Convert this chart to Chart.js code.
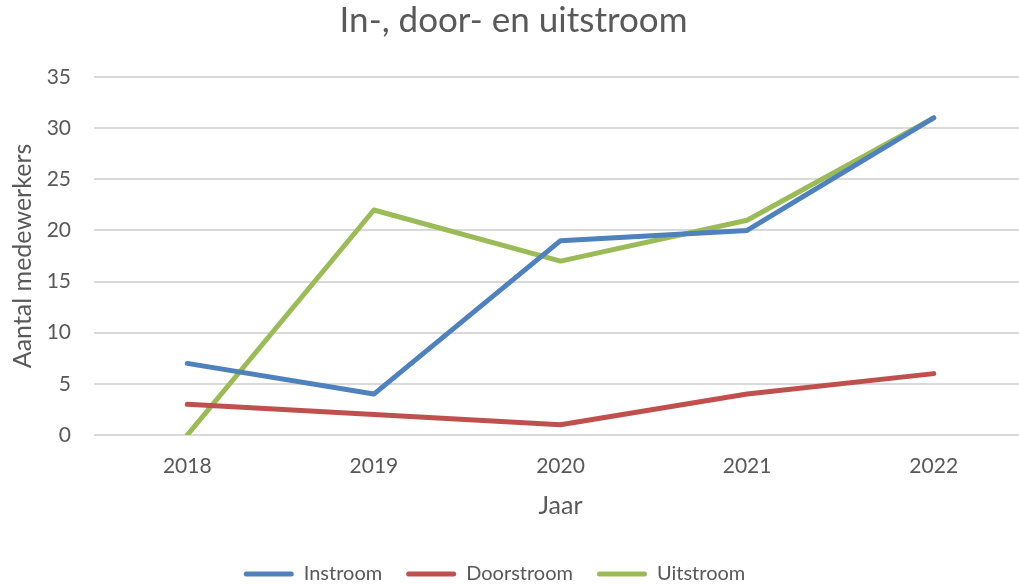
<!DOCTYPE html>
<html>
<head>
<meta charset="utf-8">
<script src="https://cdn.jsdelivr.net/npm/chart.js@4/dist/chart.umd.min.js"></script>
<style>
  html, body { margin: 0; padding: 0; background: #fff; overflow: hidden; }
  #wrap { width: 1030px; height: 600px; }
</style>
</head>
<body>
<div id="wrap"><canvas id="chart" width="1030" height="600"></canvas></div>
<script>
const years = ["2018", "2019", "2020", "2021", "2022"];
const instroom = [7, 4, 19, 20, 31];
const doorstroom = [3, 2, 1, 4, 6];
const uitstroom = [0, 22, 17, 21, 31];

const textColor = "#595959";
const fontFamily = "Lato, 'Open Sans', sans-serif";

function series(label, data, color) {
  return {
    label, data,
    borderColor: color,
    backgroundColor: color,
    borderWidth: 5,
    borderCapStyle: "round",
    borderJoinStyle: "round",
    pointRadius: 0,
    tension: 0
  };
}

// legend sits a little left of the canvas centre in the original
const legendShift = {
  id: "legendShift",
  afterLayout(chart) {
    chart.legend.left -= 19;
    chart.legend.right -= 19;
  }
};

new Chart(document.getElementById("chart"), {
  type: "line",
  data: {
    labels: years,
    datasets: [
      series("Instroom", instroom, "#4f81bd"),
      series("Doorstroom", doorstroom, "#c0504d"),
      series("Uitstroom", uitstroom, "#9bbb59")
    ]
  },
  plugins: [legendShift],
  options: {
    responsive: false,
    animation: false,
    layout: { padding: { top: 0, left: 0, right: 3, bottom: 6 } },
    plugins: {
      title: {
        display: true,
        text: "In-, door- en uitstroom",
        color: textColor,
        font: { family: fontFamily, size: 35, weight: "normal" },
        padding: { top: 0, bottom: 35 }
      },
      legend: {
        position: "bottom",
        labels: {
          color: textColor,
          font: { family: fontFamily, size: 20 },
          boxWidth: 50,
          boxHeight: 5,
          padding: 24,
          generateLabels(chart) {
            return chart.data.datasets.map((ds, i) => ({
              text: ds.label,
              fillStyle: ds.borderColor,
              strokeStyle: ds.borderColor,
              lineWidth: 0,
              borderRadius: 2.5,
              fontColor: textColor,
              datasetIndex: i
            }));
          }
        }
      },
      tooltip: { enabled: false }
    },
    scales: {
      x: {
        offset: true,
        afterFit(scale) { scale.height = 105; },
        grid: { display: false, drawTicks: false },
        border: { display: false },
        ticks: { color: textColor, font: { family: fontFamily, size: 21 }, padding: 19 },
        title: {
          display: true, text: "Jaar", color: textColor,
          font: { family: fontFamily, size: 25 }, padding: { top: 12, bottom: 19 }
        }
      },
      y: {
        min: 0, max: 35,
        afterFit(scale) { scale.width = 94; },
        ticks: { stepSize: 5, color: textColor, font: { family: fontFamily, size: 21 }, padding: 23 },
        grid: { color: "#d9d9d9", lineWidth: 2, drawTicks: false },
        border: { display: false },
        title: {
          display: true, text: "Aantal medewerkers", color: textColor,
          font: { family: fontFamily, size: 25 }, padding: { top: 8, bottom: 0 }
        }
      }
    }
  }
});
</script>
</body>
</html>
